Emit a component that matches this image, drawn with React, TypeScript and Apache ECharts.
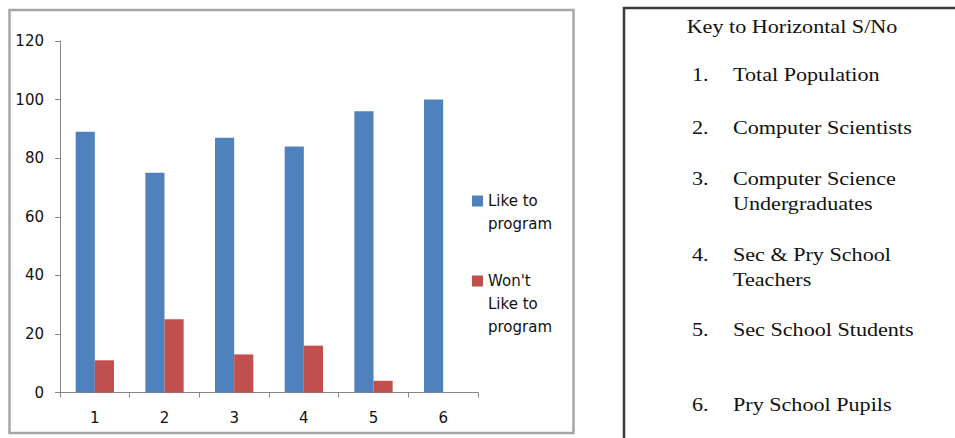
import React, { useEffect, useRef } from "react";
import * as echarts from "echarts";

const categories = ["1", "2", "3", "4", "5", "6"];
const likeToProgram = [89, 75, 87, 84, 96, 100];
const wontLikeToProgram = [11, 25, 13, 16, 4, 0];
const seriesNames = ["Like to program", "Won't Like to program"];
const legendLabels = ["\nLike to\nprogram", "\n\nWon't\nLike to\nprogram"];
const keyTitle = "Key to Horizontal S/No";
const keyNumbers = ["1.", "2.", "3.", "4.", "5.", "6."];
const keyItems = [
  "Total Population",
  "Computer Scientists",
  "Computer Science\nUndergraduates",
  "Sec & Pry School\nTeachers",
  "Sec School Students",
  "Pry School Pupils",
];

const BLUE = "#4F81BD";
const RED = "#C0504D";
const SANS = "'DejaVu Sans', 'Noto Sans', sans-serif";
const SERIF = "'Liberation Serif', 'DejaVu Serif', serif";

export default function App() {
  const ref = useRef<HTMLDivElement>(null);
  useEffect(() => {
    if (!ref.current) return;
    const chart = echarts.init(ref.current, null, { renderer: "svg" });
    const keyY = [75, 128, 179, 255, 330, 405];
    const sx = 1.23;
    const keyGraphics: any[] = [];
    keyGraphics.push({
      type: "text",
      x: 792,
      y: 27,
      scaleX: sx,
      style: {
        text: keyTitle,
        font: `18px ${SERIF}`,
        fill: "#111",
        align: "center",
        verticalAlign: "middle",
      },
    });
    keyNumbers.forEach((n, i) => {
      keyGraphics.push({
        type: "text",
        x: 692,
        y: keyY[i],
        scaleX: sx,
        style: {
          text: n,
          font: `18px ${SERIF}`,
          fill: "#111",
          align: "left",
          verticalAlign: "middle",
        },
      });
      keyGraphics.push({
        type: "text",
        x: 733,
        y: keyY[i] - 12.5,
        scaleX: sx,
        style: {
          text: keyItems[i],
          font: `18px ${SERIF}`,
          lineHeight: 25,
          fill: "#111",
          align: "left",
          verticalAlign: "top",
        },
      });
    });
    const legendBase = {
      left: 472,
      padding: 0,
      orient: "vertical",
      icon: "rect",
      itemWidth: 11,
      itemHeight: 11,
      textStyle: { fontFamily: SANS, fontSize: 15, lineHeight: 23, color: "#111" },
    };
    chart.setOption({
      animation: false,
      backgroundColor: "#fff",
      grid: { left: 60, right: 477, top: 41, bottom: 45.5, containLabel: false },
      xAxis: {
        type: "category",
        data: categories,
        axisLine: { lineStyle: { color: "#868686", width: 1 } },
        axisTick: { show: true, length: 5, lineStyle: { color: "#868686" } },
        axisLabel: { color: "#111", fontFamily: SANS, fontSize: 15, margin: 18 },
      },
      yAxis: {
        type: "value",
        min: 0,
        max: 120,
        interval: 20,
        splitLine: { show: false },
        axisLine: { show: true, lineStyle: { color: "#868686", width: 1 } },
        axisTick: { show: true, length: 5, lineStyle: { color: "#868686" } },
        axisLabel: { color: "#111", fontFamily: SANS, fontSize: 15, margin: 16 },
      },
      legend: [
        {
          ...legendBase,
          data: [seriesNames[0]],
          top: 166.5,
          formatter: () => legendLabels[0],
        },
        {
          ...legendBase,
          data: [seriesNames[1]],
          top: 223.5,
          formatter: () => legendLabels[1],
        },
      ],
      graphic: [
        {
          type: "rect",
          shape: { x: 9.5, y: 10, width: 564, height: 423 },
          style: { fill: "none", stroke: "#a6a6a6", lineWidth: 2.5 },
          silent: true,
        },
        {
          type: "rect",
          shape: { x: 624, y: 8, width: 400, height: 500 },
          style: { fill: "none", stroke: "#3a3a3a", lineWidth: 2.5 },
          silent: true,
        },
        ...keyGraphics,
      ],
      series: [
        {
          name: seriesNames[0],
          type: "bar",
          data: likeToProgram,
          itemStyle: { color: BLUE },
          barGap: "0%",
          barCategoryGap: "45%",
        },
        {
          name: seriesNames[1],
          type: "bar",
          data: wontLikeToProgram,
          itemStyle: { color: RED },
          barGap: "0%",
          barCategoryGap: "45%",
        },
      ],
    });
    return () => chart.dispose();
  }, []);
  return (
    <div
      ref={ref}
      style={{ position: "fixed", left: 0, top: 0, width: 955, height: 438 }}
    />
  );
}
